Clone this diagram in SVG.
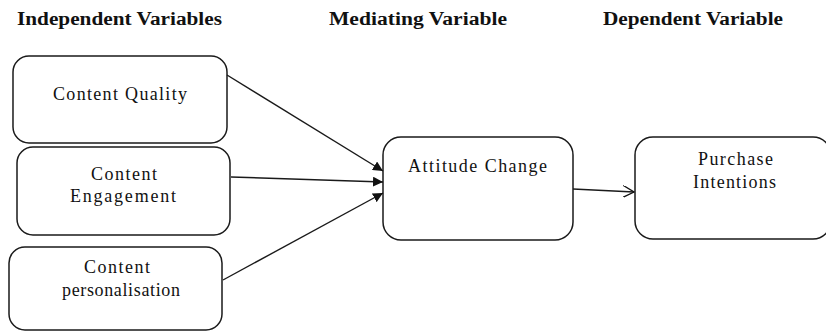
<svg xmlns="http://www.w3.org/2000/svg" width="826" height="333" viewBox="0 0 826 333">
<style>
.box{fill:#fff;stroke:#1a1a1a;stroke-width:1.5}
.c{stroke:#1a1a1a;stroke-width:1.4;fill:none}
.h{font-family:"Liberation Serif","Times New Roman",serif;font-weight:bold;font-size:18px;fill:#111}
.t{font-family:"Liberation Serif","Times New Roman",serif;font-size:18px;fill:#111}
</style>
<defs>
<marker id="fa" viewBox="0 0 10 10" refX="10" refY="5" markerWidth="10" markerHeight="10" markerUnits="userSpaceOnUse" orient="auto">
<path d="M0,0 L10,5 L0,10 z" fill="#111"/>
</marker>
<marker id="oa" viewBox="0 0 12 12" refX="11" refY="6" markerWidth="12" markerHeight="12" markerUnits="userSpaceOnUse" orient="auto">
<path d="M0,0 L11,6 L0,12" fill="none" stroke="#111" stroke-width="1.3"/>
</marker>
</defs>
<rect width="826" height="333" fill="#fff"/>
<g id="headers">
<text class="h" x="17" y="25" textLength="205" lengthAdjust="spacingAndGlyphs">Independent Variables</text>
<text class="h" x="329" y="25" textLength="178" lengthAdjust="spacingAndGlyphs">Mediating Variable</text>
<text class="h" x="603" y="25" textLength="180" lengthAdjust="spacingAndGlyphs">Dependent Variable</text>
</g>
<g id="content-quality">
<rect class="box" x="13" y="56" width="214" height="87" rx="16"/>
<text class="t" x="53" y="100" textLength="134" lengthAdjust="spacing">Content Quality</text>
</g>
<g id="content-engagement">
<rect class="box" x="17" y="147" width="213" height="88" rx="16"/>
<text class="t" x="91" y="180" textLength="66" lengthAdjust="spacing">Content</text>
<text class="t" x="70" y="202" textLength="106" lengthAdjust="spacing">Engagement</text>
</g>
<g id="content-personalisation">
<rect class="box" x="9" y="247" width="213" height="83" rx="16"/>
<text class="t" x="84" y="273" textLength="66" lengthAdjust="spacing">Content</text>
<text class="t" x="62" y="296" textLength="118" lengthAdjust="spacing">personalisation</text>
</g>
<g id="attitude-change">
<rect class="box" x="383" y="137" width="190" height="103" rx="18"/>
<text class="t" x="408" y="172" textLength="139" lengthAdjust="spacing">Attitude Change</text>
</g>
<g id="purchase-intentions">
<rect class="box" x="635" y="137" width="196" height="102" rx="18"/>
<text class="t" x="698" y="165" textLength="75" lengthAdjust="spacing">Purchase</text>
<text class="t" x="693" y="188" textLength="83" lengthAdjust="spacing">Intentions</text>
</g>
<g id="connectors">
<line class="c" x1="227" y1="75" x2="383" y2="171" marker-end="url(#fa)"/>
<line class="c" x1="231" y1="177" x2="383" y2="182" marker-end="url(#fa)"/>
<line class="c" x1="223" y1="280" x2="383" y2="193" marker-end="url(#fa)"/>
<line class="c" x1="573" y1="189" x2="634" y2="192" marker-end="url(#oa)"/>
</g>
</svg>
